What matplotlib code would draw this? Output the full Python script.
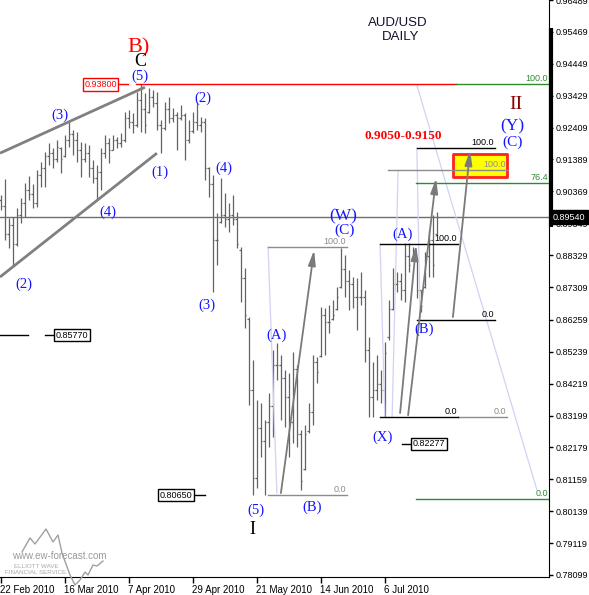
import numpy as np
import pandas as pd
import matplotlib
matplotlib.use('Agg')
import matplotlib.pyplot as plt

# AUD/USD daily bars, one per weekday from 22 Feb 2010
dates = pd.bdate_range('2010-02-22', periods=110)

opens = [0.9010, 0.8990, 0.8900, 0.8930, 0.8870, 0.8960, 0.9000, 0.9040, 0.9030, 0.9000,
         0.9090, 0.9110, 0.9150, 0.9160, 0.9140, 0.9175, 0.9150, 0.9200, 0.9220, 0.9200,
         0.9170, 0.9140, 0.9160, 0.9110, 0.9080, 0.9100, 0.9160, 0.9190, 0.9170, 0.9200,
         0.9190, 0.9200, 0.9270, 0.9260, 0.9250, 0.9330, 0.9300, 0.9290, 0.9340, 0.9320,
         0.9250, 0.9240, 0.9300, 0.9270, 0.9280, 0.9270, 0.9280, 0.9200, 0.9230, 0.9260,
         0.9250, 0.9260, 0.9110, 0.9060, 0.8880, 0.8940, 0.8960, 0.8950, 0.8960, 0.8950,
         0.8850, 0.8760, 0.8630, 0.8400, 0.8120, 0.8280, 0.8240, 0.8300, 0.8350, 0.8480,
         0.8480, 0.8440, 0.8380, 0.8300, 0.8470, 0.8260, 0.8150, 0.8270, 0.8330, 0.8490,
         0.8510, 0.8640, 0.8620, 0.8630, 0.8660, 0.8730, 0.8790, 0.8750, 0.8740, 0.8700,
         0.8700, 0.8700, 0.8530, 0.8380, 0.8400, 0.8420, 0.8400, 0.8570, 0.8660, 0.8740,
         0.8750, 0.8720, 0.8830, 0.8820, 0.8820, 0.8720, 0.8730, 0.8830, 0.8880, 0.8900]
highs = [0.9025, 0.9076, 0.8951, 0.8954, 0.8983, 0.9015, 0.9063, 0.9086, 0.9060, 0.9105,
         0.9130, 0.9162, 0.9191, 0.9175, 0.9201, 0.9178, 0.9217, 0.9258, 0.9233, 0.9226,
         0.9194, 0.9191, 0.9185, 0.9137, 0.9121, 0.9175, 0.9217, 0.9207, 0.9217, 0.9210,
         0.9223, 0.9290, 0.9297, 0.9287, 0.9354, 0.9380, 0.9351, 0.9367, 0.9361, 0.9354,
         0.9265, 0.9322, 0.9338, 0.9303, 0.9290, 0.9313, 0.9287, 0.9265, 0.9290, 0.9322,
         0.9274, 0.9271, 0.9114, 0.9089, 0.8967, 0.9079, 0.9031, 0.8999, 0.9025, 0.8970,
         0.8859, 0.8791, 0.8635, 0.8497, 0.8369, 0.8360, 0.8305, 0.8392, 0.8529, 0.8552,
         0.8513, 0.8465, 0.8456, 0.8523, 0.8481, 0.8273, 0.8289, 0.8360, 0.8513, 0.8507,
         0.8667, 0.8664, 0.8673, 0.8689, 0.8731, 0.8855, 0.8833, 0.8785, 0.8763, 0.8759,
         0.8779, 0.8721, 0.8571, 0.8491, 0.8513, 0.8465, 0.8555, 0.8689, 0.8791, 0.8779,
         0.8775, 0.8871, 0.8871, 0.8859, 0.8823, 0.8721, 0.8843, 0.8913, 0.8961, 0.8970]
lows = [0.8977, 0.8881, 0.8855, 0.8798, 0.8862, 0.8935, 0.8954, 0.9009, 0.8983, 0.8986,
        0.9050, 0.9050, 0.9121, 0.9111, 0.9130, 0.9095, 0.9146, 0.9178, 0.9153, 0.9130,
        0.9082, 0.9130, 0.9082, 0.9063, 0.9009, 0.9041, 0.9143, 0.9127, 0.9169, 0.9175,
        0.9178, 0.9194, 0.9239, 0.9223, 0.9242, 0.9226, 0.9223, 0.9287, 0.9306, 0.9233,
        0.9159, 0.9233, 0.9255, 0.9258, 0.9169, 0.9265, 0.9137, 0.9191, 0.9223, 0.9233,
        0.9226, 0.9073, 0.9018, 0.8715, 0.8801, 0.8935, 0.8922, 0.8906, 0.8929, 0.8855,
        0.8683, 0.8600, 0.8353, 0.8065, 0.8088, 0.8187, 0.8066, 0.8219, 0.8251, 0.8433,
        0.8305, 0.8283, 0.8187, 0.8232, 0.8219, 0.8082, 0.8146, 0.8264, 0.8289, 0.8424,
        0.8507, 0.8513, 0.8584, 0.8625, 0.8657, 0.8728, 0.8699, 0.8657, 0.8664, 0.8593,
        0.8673, 0.8491, 0.8315, 0.8315, 0.8369, 0.8360, 0.8315, 0.8561, 0.8657, 0.8715,
        0.8689, 0.8683, 0.8779, 0.8817, 0.8696, 0.8651, 0.8728, 0.8763, 0.8763, 0.8897]
closes = [0.8990, 0.8900, 0.8930, 0.8870, 0.8960, 0.9000, 0.9040, 0.9030, 0.9000, 0.9090,
          0.9110, 0.9150, 0.9160, 0.9140, 0.9180, 0.9140, 0.9200, 0.9220, 0.9200, 0.9170,
          0.9140, 0.9160, 0.9110, 0.9080, 0.9100, 0.9160, 0.9190, 0.9170, 0.9200, 0.9190,
          0.9200, 0.9270, 0.9260, 0.9250, 0.9330, 0.9300, 0.9250, 0.9340, 0.9320, 0.9250,
          0.9240, 0.9300, 0.9270, 0.9280, 0.9270, 0.9280, 0.9200, 0.9230, 0.9260, 0.9250,
          0.9260, 0.9110, 0.9060, 0.8880, 0.8880, 0.8960, 0.8950, 0.8960, 0.8950, 0.8870,
          0.8760, 0.8640, 0.8400, 0.8120, 0.8280, 0.8240, 0.8300, 0.8350, 0.8480, 0.8480,
          0.8440, 0.8380, 0.8300, 0.8470, 0.8260, 0.8110, 0.8260, 0.8330, 0.8490, 0.8460,
          0.8640, 0.8620, 0.8620, 0.8640, 0.8700, 0.8790, 0.8750, 0.8740, 0.8700, 0.8700,
          0.8700, 0.8530, 0.8380, 0.8400, 0.8420, 0.8400, 0.8520, 0.8660, 0.8740, 0.8750,
          0.8720, 0.8830, 0.8800, 0.8840, 0.8720, 0.8670, 0.8830, 0.8880, 0.8800, 0.8954]

ytick_labels = ['0.96489', '0.95469', '0.94449', '0.93429', '0.92409', '0.91389', '0.90369',
                '0.89349', '0.88329', '0.87309', '0.86259', '0.85239', '0.84219', '0.83199',
                '0.82179', '0.81159', '0.80139', '0.79119', '0.78099']
last_price = 0.8954
high_b = 0.9380

# wave labels: text, bar index, price, size, colour
wave_labels = [
    ('(3)', 14.9, 0.9281, 10.5, 'b'), ('(4)', 26.9, 0.8970, 10.5, 'b'), ('(2)', 5.9, 0.8740, 10.5, 'b'),
    ('(5)', 34.9, 0.9405, 10.5, 'b'), ('(1)', 39.9, 0.9098, 10.5, 'b'), ('(2)', 50.6, 0.9335, 10.5, 'b'),
    ('(4)', 55.9, 0.9111, 10.5, 'b'), ('(3)', 51.6, 0.8673, 10.5, 'b'), ('(5)', 63.9, 0.8018, 10.5, 'b'),
    ('(A)', 68.9, 0.8577, 10.5, 'b'), ('(B)', 77.9, 0.8027, 10.5, 'b'), ('(W)', 85.6, 0.8958, 12.5, 'b'),
    ('(C)', 86.1, 0.8913, 11, 'b'), ('(A)', 100.6, 0.8900, 10.5, 'b'), ('(B)', 105.9, 0.8596, 10.5, 'b'),
    ('(X)', 95.6, 0.8251, 10.5, 'b'), ('(Y)', 127.9, 0.9245, 12.5, 'b'), ('(C)', 127.9, 0.9194, 11, 'b'),
    ('B)', 34.4, 0.9495, 16, 'r'), ('C', 34.9, 0.9452, 13, 'k'), ('I', 62.9, 0.7954, 13, 'k'),
    ('II', 128.9, 0.9316, 14, 'dr'),
]
wave_colors = {'b': '#1414ff', 'r': '#ff0000', 'k': '#000000', 'dr': '#8b0000'}

# fibonacci lines: price, start bar, end bar, label, colour
fib_lines = [
    (0.9174, 104.1, 123.6, '100.0', '#000000'),
    (0.9105, 96.9, 126.6, '100.0', '#8c8c8c'),
    (0.9064, 103.9, 137.1, '76.4', '#2e8b2e'),
    (0.8867, 94.9, 114.4, '100.0', '#000000'),
    (0.8858, 66.9, 86.6, '100.0', '#8c8c8c'),
    (0.8625, 104.1, 123.6, '0.0', '#000000'),
    (0.8314, 114.4, 126.6, '0.0', '#8c8c8c'),
    (0.8314, 94.9, 114.4, '0.0', '#000000'),
    (0.8066, 66.9, 86.6, '0.0', '#8c8c8c'),
    (0.8053, 103.9, 137.1, '0.0', '#2e8b2e'),
]

# price boxes: value, bar index, leader line segments
price_boxes = [
    ('0.85770', 17.9, 0.8577, [(-0.1, 6.9), (11.1, 13.6)]),
    ('0.80650', 43.9, 0.8065, [(48.4, 51.1)]),
    ('0.82277', 107.1, 0.8229, [(100.4, 102.9)]),
]

# arrows: start bar, start price, end bar, end price
arrows = [(70.1, 0.8072, 78.4, 0.8849), (99.9, 0.8328, 103.9, 0.8865),
          (101.9, 0.8321, 108.9, 0.9079), (113.1, 0.8635, 117.4, 0.9169)]

# faint time lines
time_lines = [(104.1, 0.9376, 134.1, 0.8082), (66.9, 0.8859, 69.1, 0.8072),
              (99.4, 0.9104, 97.9, 0.8314), (104.1, 0.9174, 104.9, 0.8625),
              (94.9, 0.8867, 96.1, 0.8314)]

fig = plt.figure(figsize=(5.89, 5.95), dpi=100)
ax = fig.add_axes([0, 18 / 595, 549 / 589, 577 / 595])
ax.set_xlim(-0.125, 137.125)
ax.set_ylim(0.78035, 0.96482)

x = np.arange(len(highs))
bar_c = '#626262'
ax.vlines(x, lows, highs, color=bar_c, lw=0.9)
ax.hlines(opens, x - 0.35, x, color=bar_c, lw=0.9)
ax.hlines(closes, x, x + 0.35, color=bar_c, lw=0.9)

# current price line
ax.axhline(last_price, color='#6e6e6e', lw=1)

# wedge channel
ax.plot([-0.125, 36.1], [0.9159, 0.9370], color='#808080', lw=2, solid_capstyle='butt')
ax.plot([-0.125, 39.1], [0.8763, 0.9159], color='#808080', lw=2, solid_capstyle='butt')

for x0, p0, x1, p1 in time_lines:
    ax.plot([x0, x1], [p0, p1], color='#d2d2f4', lw=0.9)

# B) high level
ax.plot([33.9, 113.9], [high_b, high_b], color='#ff0000', lw=1)
ax.plot([113.9, 137.1], [high_b, high_b], color='#2e8b2e', lw=1)
ax.text(136.8, high_b + 0.0004, '100.0', color='#2e8b2e', fontsize=6.5,
        family='Liberation Sans', ha='right', va='bottom')
ax.plot([29.4, 31.9], [0.9379, 0.9379], color='#ff0000', lw=1)
ax.text(25.0, 0.9379, '0.93800', color='#ff0000', fontsize=6.5, family='Liberation Sans',
        ha='center', va='center',
        bbox=dict(facecolor='white', edgecolor='#ff0000', lw=1, pad=1.2))

# target box
ax.fill_between([113.1, 126.6], 0.9082, 0.9156, facecolor='#ffff00', edgecolor='#ff2020',
                lw=2, zorder=2)

for p, x0, x1, lab, col in fib_lines:
    ax.plot([x0, x1], [p, p], color=col, lw=1, zorder=3)
    ax.text(x1 - 0.3, p + 0.0004, lab, color=col, fontsize=6.5, family='Liberation Sans',
            ha='right', va='bottom', zorder=4)

for lab, bx, p, segs in price_boxes:
    for s0, s1 in segs:
        ax.plot([s0, s1], [p, p], color='black', lw=1)
    ax.text(bx, p, lab, fontsize=6.5, family='Liberation Sans', ha='center', va='center',
            bbox=dict(facecolor='white', edgecolor='black', lw=1, pad=1.2))

for x0, p0, x1, p1 in arrows:
    ax.annotate('', xy=(x1, p1), xytext=(x0, p0),
                arrowprops=dict(arrowstyle='-|>,head_length=0.9,head_width=0.22',
                                color='#7a7a7a', lw=1.3, shrinkA=0, shrinkB=0), zorder=5)

for lab, bx, p, fs, c in wave_labels:
    ax.text(bx, p, lab, color=wave_colors[c], fontsize=fs, family='Liberation Serif',
            ha='center', va='center', zorder=6)

ax.text(100.6, 0.9213, '0.9050-0.9150', color='#ff0000', fontsize=9.5, fontweight='bold',
        family='Liberation Serif', ha='center', va='center')
ax.text(99.3, 0.9575, 'AUD/USD', fontsize=9.5, family='Liberation Sans', ha='center',
        va='center', color='#101030')
ax.text(99.9, 0.9530, 'DAILY', fontsize=9.5, family='Liberation Sans', ha='center',
        va='center', color='#101030')

# axes styling like the trading terminal
for s in ['left', 'top']:
    ax.spines[s].set_visible(False)
ax.spines['right'].set_color('black')
ax.spines['bottom'].set_color('black')
ax.yaxis.tick_right()
ax.set_yticks([float(t) for t in ytick_labels])
ax.set_yticklabels(ytick_labels)
tick_pos = x[::16]
ax.set_xticks(tick_pos)
ax.set_xticklabels([d.strftime('%-d %b %Y') for d in dates[tick_pos]])
for lab in ax.get_xticklabels():
    lab.set_ha('left')
ax.tick_params(axis='x', direction='out', length=4, width=1, labelsize=7, pad=2)
ax.tick_params(axis='y', direction='out', length=3, width=1, labelsize=6.5, pad=2)
for lab in ax.get_xticklabels() + ax.get_yticklabels():
    lab.set_family('Liberation Sans')
ax.plot([1.004, 1.004], [0.607, 0.951], transform=ax.transAxes, color='black', lw=3,
        clip_on=False, solid_capstyle='butt')

# last price marker
fig.text(569 / 589, 1 - 217 / 595, '0.89540', color='white', fontsize=6.5,
         family='Liberation Sans', ha='center', va='center', zorder=10,
         bbox=dict(facecolor='black', edgecolor='black', pad=1.8))

# watermark
zig_x = [22, 30, 35, 46, 53, 58, 62, 70, 75, 80, 85, 88, 93, 97, 103]
zig_y = [552, 538, 544, 529, 542, 535, 553, 575, 585, 580, 572, 575, 565, 566, 561]
fig.lines.append(plt.Line2D([v / 589 for v in zig_x], [1 - v / 595 for v in zig_y],
                            transform=fig.transFigure, color='#a0a0a0', lw=1))
fig.text(59 / 589, 1 - 556 / 595, 'www.ew-forecast.com', color='#9a9a9a', fontsize=7,
         family='Liberation Sans', ha='center', va='center')
fig.text(36 / 589, 1 - 566 / 595, 'ELLIOTT WAVE', color='#a8a8a8', fontsize=4.5,
         family='Liberation Sans', ha='center', va='center')
fig.text(36 / 589, 1 - 573 / 595, 'FINANCIAL SERVICE', color='#a8a8a8', fontsize=4.5,
         family='Liberation Sans', ha='center', va='center')

fig.savefig('out.png', dpi=100)
